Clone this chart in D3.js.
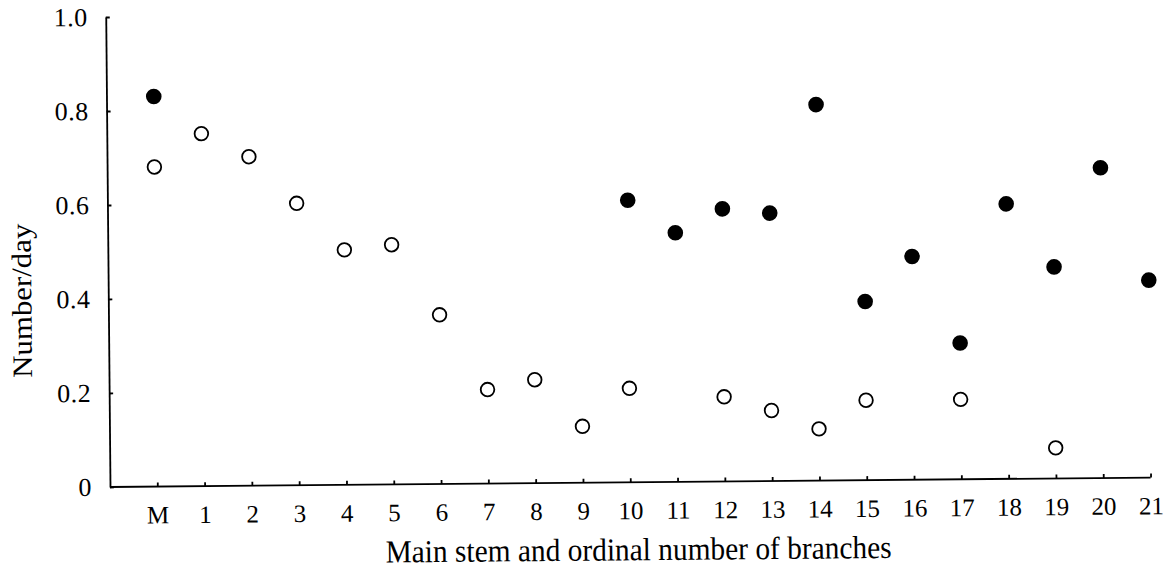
<!DOCTYPE html>
<html>
<head>
<meta charset="UTF-8">
<title>Number/day</title>
<style>
  body { margin: 0; background: #fff; }
  svg { display: block; }
  text { font-family: "Liberation Serif", "DejaVu Serif", serif; fill: #000; }
</style>
</head>
<body>
<div id="chart"></div>
<script src="https://d3js.org/d3.v7.min.js"></script>
<script>
// categories on the x axis: main stem then branch numbers
var categories = ["M", "1", "2", "3", "4", "5", "6", "7", "8", "9", "10",
  "11", "12", "13", "14", "15", "16", "17", "18", "19", "20", "21"];

// open circles (null = no point)
var openValues = [0.68, 0.75, 0.70, 0.60, 0.50, 0.51, 0.36, 0.20, 0.22, 0.12, 0.20,
  null, 0.18, 0.15, 0.11, 0.17, null, 0.17, null, 0.065, null, null];

// filled circles
var filledValues = [0.83, null, null, null, null, null, null, null, null, null, 0.60,
  0.53, 0.58, 0.57, 0.80, 0.38, 0.475, 0.29, 0.585, 0.45, 0.66, 0.42];

var yTicks = [0, 0.2, 0.4, 0.6, 0.8, 1.0];
var xTitle = "Main stem and ordinal number of branches";
var yTitle = "Number/day";

var width = 1166, height = 570;
var origin = { x: 110, y: 487 };
var plotH = 470;
var tilt = -0.52; // the scanned figure is slightly rotated

var svg = d3.select("#chart").append("svg")
  .attr("width", width)
  .attr("height", height);

var g = svg.append("g")
  .attr("transform", "translate(" + origin.x + "," + origin.y + ") rotate(" + tilt + ")");

var x = d3.scalePoint()
  .domain(categories)
  .range([47.3, 1040.6]);

var y = d3.scaleLinear()
  .domain([0, 1])
  .range([0, -plotH]);

// x axis
var xAxis = d3.axisBottom(x)
  .tickSize(-4)
  .tickSizeOuter(0)
  .tickPadding(19);

var gx = g.append("g").call(xAxis);
gx.select(".domain").remove();
gx.selectAll(".tick line").attr("stroke", "#000").attr("stroke-width", 1.8);
gx.selectAll("text").attr("font-size", "25px").attr("fill", "#000");

g.append("line")
  .attr("x1", 0)
  .attr("x2", x("21"))
  .attr("y1", 0)
  .attr("y2", 0)
  .attr("stroke", "#000")
  .attr("stroke-width", 1.8);

// y axis
var yAxis = d3.axisLeft(y)
  .tickValues(yTicks)
  .tickSize(-4)
  .tickSizeOuter(0)
  .tickPadding(18)
  .tickFormat(function(d) { return d === 0 ? "0" : d3.format(".1f")(d); });

var gy = g.append("g").call(yAxis);
gy.select(".domain").attr("stroke", "#000").attr("stroke-width", 1.8);
gy.selectAll(".tick line").attr("stroke", "#000").attr("stroke-width", 1.8);
gy.selectAll("text").attr("font-size", "26px").attr("letter-spacing", "0.5px").attr("fill", "#000");

// points
var openData = categories.map(function(c, i) { return { cat: c, value: openValues[i] }; })
  .filter(function(d) { return d.value !== null; });
var filledData = categories.map(function(c, i) { return { cat: c, value: filledValues[i] }; })
  .filter(function(d) { return d.value !== null; });

g.append("g").selectAll("circle")
  .data(openData)
  .join("circle")
  .attr("cx", function(d) { return x(d.cat); })
  .attr("cy", function(d) { return y(d.value); })
  .attr("r", 6.8)
  .attr("fill", "#fff")
  .attr("stroke", "#000")
  .attr("stroke-width", 1.8);

g.append("g").selectAll("circle")
  .data(filledData)
  .join("circle")
  .attr("cx", function(d) { return x(d.cat); })
  .attr("cy", function(d) { return y(d.value); })
  .attr("r", 7.8)
  .attr("fill", "#000");

// titles (condensed type like the printed figure)
g.append("text")
  .attr("x", 528)
  .attr("y", 78)
  .attr("text-anchor", "middle")
  .attr("font-size", "32px")
  .attr("textLength", 506)
  .attr("lengthAdjust", "spacingAndGlyphs")
  .text(xTitle);

g.append("text")
  .attr("transform", "translate(-77," + (-187) + ") rotate(-90)")
  .attr("text-anchor", "middle")
  .attr("font-size", "28px")
  .attr("textLength", 154)
  .attr("lengthAdjust", "spacingAndGlyphs")
  .text(yTitle);
</script>
</body>
</html>
